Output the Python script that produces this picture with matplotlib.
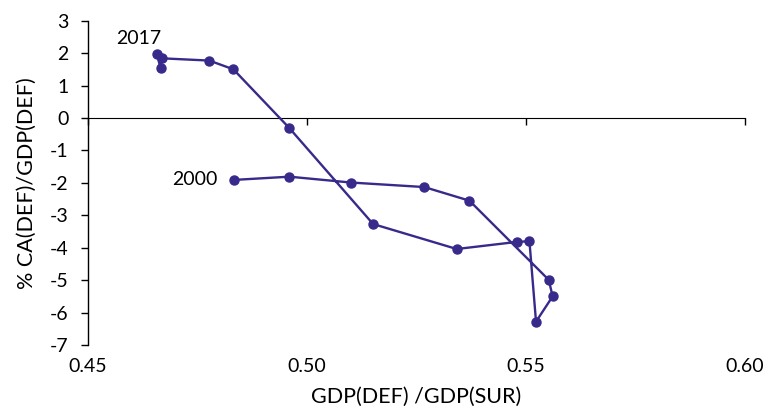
import matplotlib
matplotlib.use("Agg")
import matplotlib.pyplot as plt

# GDP(DEF)/GDP(SUR) vs current account, years 2000 -> 2017
years = list(range(2000, 2018))
gdp_ratio = [0.4833, 0.4960, 0.5100, 0.5268, 0.5371, 0.5552, 0.5561, 0.5523, 0.5508,
             0.5480, 0.5342, 0.5151, 0.4959, 0.4832, 0.4777, 0.4668, 0.4666, 0.4657]
ca_pct = [-1.91, -1.81, -1.99, -2.13, -2.55, -4.99, -5.50, -6.28, -3.80,
          -3.82, -4.04, -3.27, -0.30, 1.50, 1.77, 1.84, 1.53, 1.97]

xticks = [0.45, 0.50, 0.55, 0.60]
yticks = list(range(-7, 4))

plt.rcParams['font.family'] = ['Lato', 'DejaVu Sans']
plt.rcParams['axes.unicode_minus'] = False
color = "#382a8a"

fig = plt.figure(figsize=(7.64, 4.12), dpi=100)
ax = fig.add_axes([0.1152, 0.1626, 0.975 - 0.1152, 0.9498 - 0.1626])

ax.plot(gdp_ratio, ca_pct, color=color, lw=1.7, marker="o", ms=6.5, zorder=3)

ax.set_xlim(0.45, 0.60)
ax.set_ylim(-7, 3)
ax.set_xticks(xticks)
ax.set_xticklabels([f"{t:.2f}" for t in xticks])
ax.set_yticks(yticks)

for s in ["top", "right", "bottom"]:
    ax.spines[s].set_visible(False)
ax.spines["left"].set_linewidth(1.0)
ax.tick_params(axis="y", direction="out", length=5, width=1, labelsize=14, pad=9)
ax.tick_params(axis="x", length=0, labelsize=14, pad=9)

# horizontal axis line through zero with small ticks
zero_axis = ax.secondary_xaxis(0.7)
zero_axis.set_xticks(xticks)
zero_axis.tick_params(direction="out", length=5, width=1, labelbottom=False, labeltop=False,
                      bottom=True, top=False)
zero_axis.spines["bottom"].set_linewidth(1.0)

ax.set_xlabel("GDP(DEF) /GDP(SUR)", fontsize=15.5, labelpad=9)
ax.set_ylabel("% CA(DEF)/GDP(DEF)", fontsize=15.5, labelpad=9)

ax.annotate(str(years[0]), (gdp_ratio[0], ca_pct[0]), xytext=(-12, 0),
            textcoords="offset points", ha="right", va="center", fontsize=14)
ax.annotate(str(years[-1]), (gdp_ratio[-1], ca_pct[-1]), xytext=(3, 5),
            textcoords="offset points", ha="right", va="bottom", fontsize=14)

fig.savefig("out.png", dpi=100)
